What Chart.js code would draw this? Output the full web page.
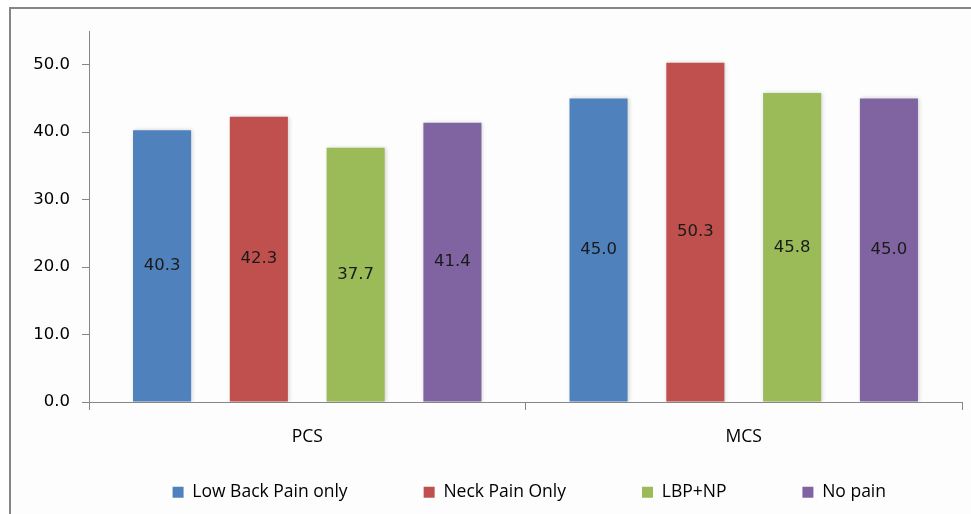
<!DOCTYPE html>
<html><head><meta charset="utf-8">
<script src="https://cdn.jsdelivr.net/npm/chart.js@4.4.0/dist/chart.umd.min.js"></script>
<style>html,body{margin:0;padding:0;background:#fff}#wrap{width:971px;height:514px}</style>
</head><body><div id="wrap"><canvas id="c" width="971" height="514"></canvas></div>
<script>
const categories = ['PCS', 'MCS'];
const seriesNames = ['Low Back Pain only', 'Neck Pain Only', 'LBP+NP', 'No pain'];
const lowBackPainOnly = [40.3, 45.0];
const neckPainOnly = [42.3, 50.3];
const lbpPlusNp = [37.7, 45.8];
const noPain = [41.4, 45.0];
const yTickValues = [0, 10, 20, 30, 40, 50];

const seriesValues = [lowBackPainOnly, neckPainOnly, lbpPlusNp, noPain];
const seriesColors = ['#4F81BD', '#C0504D', '#9BBB59', '#8064A2'];
const numFont = '"DejaVu Sans", sans-serif';
const txtFont = '"Open Sans", sans-serif';

const framePlugin = {
  id: 'frame',
  beforeDraw(chart) {
    const ctx = chart.ctx;
    ctx.save();
    ctx.fillStyle = '#ffffff';
    ctx.fillRect(0, 0, chart.width, chart.height);
    ctx.fillStyle = '#fdfdfd';
    ctx.fillRect(10, 8, chart.width, chart.height);
    ctx.strokeStyle = '#868686';
    ctx.lineWidth = 2;
    ctx.strokeRect(10, 8, chart.width + 10, chart.height + 10);
    ctx.restore();
  }
};

const shadowPlugin = {
  id: 'barShadow',
  beforeDatasetsDraw(chart) {
    const ctx = chart.ctx;
    ctx.save();
    ctx.shadowColor = 'rgba(0,0,0,0.18)';
    ctx.shadowBlur = 4;
    ctx.shadowOffsetX = 1;
    ctx.shadowOffsetY = 0;
  },
  afterDatasetsDraw(chart) {
    chart.ctx.restore();
  }
};

const valueLabelPlugin = {
  id: 'valueLabels',
  afterDatasetsDraw(chart) {
    const ctx = chart.ctx;
    ctx.save();
    ctx.font = '16.5px ' + numFont;
    ctx.fillStyle = '#1a1a1a';
    ctx.textAlign = 'center';
    ctx.textBaseline = 'middle';
    chart.data.datasets.forEach((ds, di) => {
      const meta = chart.getDatasetMeta(di);
      meta.data.forEach((bar, i) => {
        const v = ds.data[i];
        ctx.fillText(v.toFixed(1), bar.x, (bar.y + bar.base) / 2);
      });
    });
    ctx.restore();
  }
};

new Chart(document.getElementById('c'), {
  type: 'bar',
  data: {
    labels: categories,
    datasets: seriesNames.map((name, i) => ({
      label: name,
      data: seriesValues[i],
      backgroundColor: seriesColors[i],
      borderWidth: 0,
      categoryPercentage: 0.887,
      barPercentage: 0.6
    }))
  },
  options: {
    responsive: false,
    animation: false,
    devicePixelRatio: 1,
    layout: { padding: { top: 31, left: 0, right: 9, bottom: 3 } },
    plugins: {
      tooltip: { enabled: false },
      legend: {
        position: 'bottom',
        align: 'end',
        labels: {
          font: { size: 17.5, family: txtFont },
          color: '#000',
          boxWidth: 11,
          boxHeight: 11,
          padding: 76
        }
      }
    },
    scales: {
      x: {
        grid: { drawOnChartArea: false, tickLength: 8, color: '#868686' },
        border: { color: '#868686' },
        ticks: { font: { size: 17.5, family: txtFont }, color: '#000', mirror: true, padding: -46 },
        afterFit(s) { s.height = 5.5; }
      },
      y: {
        min: 0,
        max: 55,
        afterBuildTicks(s) { s.ticks = yTickValues.map(v => ({ value: v })); },
        afterFit(s) { s.width = 89; },
        grid: { drawOnChartArea: false, tickLength: 7, color: '#868686' },
        border: { color: '#868686' },
        ticks: {
          font: { size: 16.5, family: numFont },
          color: '#000',
          padding: 12,
          callback: v => Number(v).toFixed(1)
        }
      }
    }
  },
  plugins: [framePlugin, shadowPlugin, valueLabelPlugin]
});
</script>
</body></html>
